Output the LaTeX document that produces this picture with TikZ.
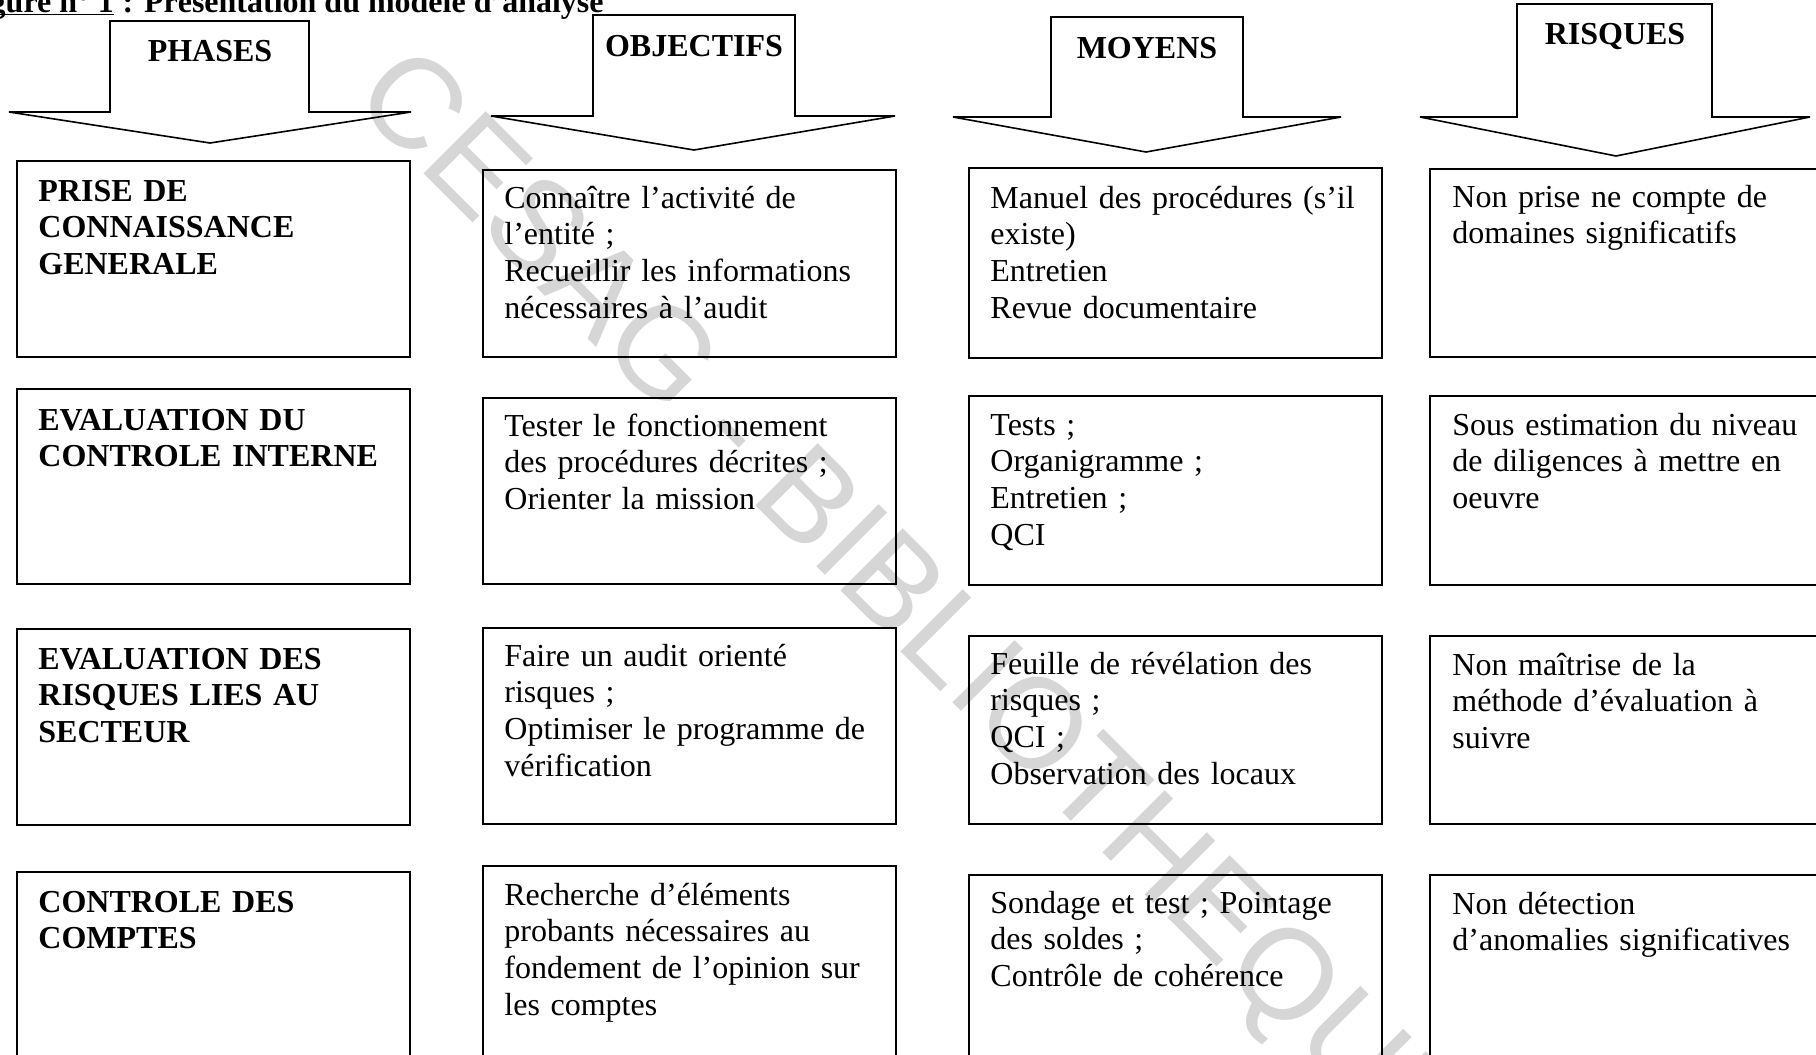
\documentclass[tikz,border=0pt]{standalone}
\usepackage{fontspec}
\setmainfont{Liberation Serif}
\newfontfamily\wmfont{Liberation Sans}
\begin{document}
\begin{tikzpicture}[x=0.5pt,y=-0.5pt,
  box/.style={draw=black, line width=1pt},
  blockarrow/.style={draw=black, line width=0.8pt, line join=miter},
  txt/.style={anchor=base west, inner sep=0pt, text width=190pt, align=left,
    font=\fontsize{16}{18.35}\selectfont},
  hdr/.style={txt, font=\fontsize{16}{18.35}\selectfont\bfseries},
  lbl/.style={anchor=base, inner sep=0pt, font=\fontsize{16}{18.35}\selectfont\bfseries},
  wmark/.style={rotate=-45, inner sep=0pt, text=black!16,
    font=\wmfont\fontsize{64}{70}\selectfont}]
\useasboundingbox (0,0) rectangle (1816,1055);
\clip (0,0) rectangle (1816,1055);
\fill[white] (0,0) rectangle (1816,1055);

% watermark
\node[wmark] (wm) at (907,611) {CESAG - BIBLIOTHEQUE};

% title (top cut off)
\node[lbl, anchor=base east] (title2) at (604,12) {: Présentation du modèle d’analyse};
\node[lbl, anchor=base east] (title1) at ([xshift=-4pt]title2.base west) {Figure n° 1};
\draw[line width=0.9pt] ([yshift=-1.2pt]title1.base west) -- ([yshift=-1.2pt]title1.base east);

% header block arrows
\draw[blockarrow] (9,112) -- (110,112) -- (110,21) -- (309,21) -- (309,112) -- (411,112) -- (210,143) -- cycle;
\node[lbl] (hphases) at (210,61) {PHASES};

\draw[blockarrow] (491,116) -- (593,116) -- (593,15) -- (795,15) -- (795,116) -- (895,116) -- (694,150) -- cycle;
\node[lbl] (hobj) at (694,56) {OBJECTIFS};

\draw[blockarrow] (953,117) -- (1051,117) -- (1051,17) -- (1243,17) -- (1243,117) -- (1341,117) -- (1146,152) -- cycle;
\node[lbl] (hmoy) at (1147,58) {MOYENS};

\draw[blockarrow] (1420,117) -- (1517,117) -- (1517,4) -- (1712,4) -- (1712,117) -- (1810,117) -- (1616,156) -- cycle;
\node[lbl] (hris) at (1615,44) {RISQUES};

% column 1 : phases
\draw[box] (17,161) rectangle (410,357);
\node[hdr] (p1) at (38,201) {PRISE DE\\CONNAISSANCE\\GENERALE};
\draw[box] (17,389) rectangle (410,584);
\node[hdr] (p2) at (38,430) {EVALUATION DU\\CONTROLE INTERNE};
\draw[box] (17,629) rectangle (410,825);
\node[hdr] (p3) at (38,669) {EVALUATION DES\\RISQUES LIES AU\\SECTEUR};
\draw[box] (17,872) rectangle (410,1070);
\node[hdr] (p4) at (38,912) {CONTROLE DES\\COMPTES};

% column 2 : objectifs
\draw[box] (483,170) rectangle (896,357);
\node[txt] (o1) at (504,208) {Connaître l’activité de\\l’entité ;\\Recueillir les informations\\nécessaires à l’audit};
\draw[box] (483,398) rectangle (896,584);
\node[txt] (o2) at (504,436) {Tester le fonctionnement\\des procédures décrites ;\\Orienter la mission};
\draw[box] (483,628) rectangle (896,824);
\node[txt] (o3) at (504,666) {Faire un audit orienté\\risques ;\\Optimiser le programme de\\vérification};
\draw[box] (483,866) rectangle (896,1070);
\node[txt] (o4) at (504,905) {Recherche d’éléments\\probants nécessaires au\\fondement de l’opinion sur\\les comptes};

% column 3 : moyens
\draw[box] (969,168) rectangle (1382,358);
\node[txt] (m1) at (990,208) {Manuel des procédures (s’il\\existe)\\Entretien\\Revue documentaire};
\draw[box] (969,396) rectangle (1382,585);
\node[txt] (m2) at (990,435) {Tests ;\\Organigramme ;\\Entretien ;\\QCI};
\draw[box] (969,636) rectangle (1382,824);
\node[txt] (m3) at (990,674) {Feuille de révélation des\\risques ;\\QCI ;\\Observation des locaux};
\draw[box] (969,875) rectangle (1382,1070);
\node[txt] (m4) at (990,913) {Sondage et test ; Pointage\\des soldes ;\\Contrôle de cohérence};

% column 4 : risques
\draw[box] (1430,169) rectangle (1840,357);
\node[txt] (r1) at (1452,207) {Non prise ne compte de\\domaines significatifs};
\draw[box] (1430,396) rectangle (1840,585);
\node[txt] (r2) at (1452,435) {Sous estimation du niveau\\de diligences à mettre en\\oeuvre};
\draw[box] (1430,636) rectangle (1840,824);
\node[txt] (r3) at (1452,675) {Non maîtrise de la\\méthode d’évaluation à\\suivre};
\draw[box] (1430,875) rectangle (1840,1070);
\node[txt] (r4) at (1452,914) {Non détection\\d’anomalies significatives};
\end{tikzpicture}
\end{document}
